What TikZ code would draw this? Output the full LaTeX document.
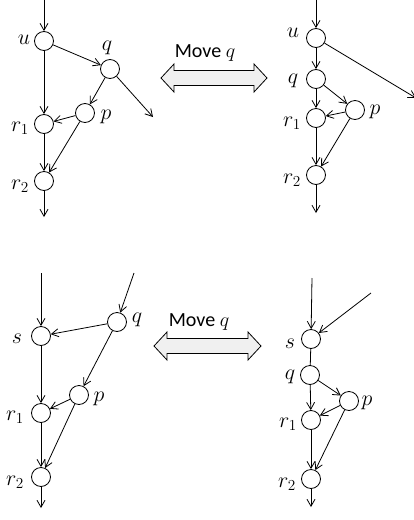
\documentclass[tikz,border=0pt]{standalone}
\usepackage{fontspec}
\newfontfamily\movefont{Carlito}
\usetikzlibrary{arrows.meta}
\tikzset{
  vtx/.style={circle, draw, minimum size=19pt, inner sep=0pt, line width=0.8pt},
  edge/.style={line width=0.8pt, -{Straight Barb[length=7pt,width=8pt]}},
  plain/.style={line width=0.8pt},
  lab/.style={inner sep=0pt, font=\fontsize{17.28}{17.28}\selectfont, scale=1.27},
  mv/.style={inner sep=0pt, font=\movefont\fontsize{17.28}{17.28}\selectfont, scale=1.16},
  dbl/.style={draw, line width=0.8pt, fill=gray!12, line join=miter}
}
\newcommand{\dblarrow}[4]{% left tip x, right tip x, center y, name
  \path[dbl] (#1,#3) -- (#1+13,#3-14) -- (#1+13,#3-7.5) -- (#2-13,#3-7.5) -- (#2-13,#3-14)
    -- (#2,#3) -- (#2-13,#3+14) -- (#2-13,#3+7.5) -- (#1+13,#3+7.5) -- (#1+13,#3+14) -- cycle;}
\begin{document}
\begin{tikzpicture}[x=1pt,y=-1pt]
\useasboundingbox (0,0) rectangle (414,520);
% ---------- top left ----------
\node[vtx] (a_u) at (44,41) {};
\node[vtx] (a_q) at (110,69) {};
\node[vtx] (a_p) at (85,113) {};
\node[vtx] (a_r1) at (44,124) {};
\node[vtx] (a_r2) at (44,181) {};
\coordinate (a_in) at (44,0);
\coordinate (a_qout) at (153,117);
\coordinate (a_out) at (44,217);
\node[lab] (a_lu) at (24,40) {$u$};
\node[lab] (a_lq) at (107,48) {$q$};
\node[lab] (a_lp) at (106,117) {$p$};
\node[lab] (a_lr1) at (20,128) {$r_1$};
\node[lab] (a_lr2) at (20,186) {$r_2$};
\draw[edge] (a_in) -- (a_u);
\draw[edge] (a_u) -- (a_q);
\draw[edge] (a_u) -- (a_r1);
\draw[edge] (a_q) -- (a_p);
\draw[edge] (a_q) -- (a_qout);
\draw[edge] (a_p) -- (a_r1);
\draw[edge] (a_p) -- (a_r2);
\draw[edge] (a_r1) -- (a_r2);
\draw[edge] (a_r2) -- (a_out);
% ---------- top right ----------
\node[vtx] (b_u) at (316,38) {};
\node[vtx] (b_q) at (316,79) {};
\node[vtx] (b_p) at (355,110) {};
\node[vtx] (b_r1) at (316,118) {};
\node[vtx] (b_r2) at (316,175) {};
\coordinate (b_in) at (316,0);
\coordinate (b_uout) at (416,98);
\coordinate (b_out) at (316,213);
\node[lab] (b_lu) at (293,33) {$u$};
\node[lab] (b_lq) at (293,81) {$q$};
\node[lab] (b_lp) at (375,112) {$p$};
\node[lab] (b_lr1) at (292,123) {$r_1$};
\node[lab] (b_lr2) at (292,180) {$r_2$};
\draw[edge] (b_in) -- (b_u);
\draw[edge] (b_u) -- (b_q);
\draw[edge] (b_u) -- (b_uout);
\draw[edge] (b_q) -- (b_r1);
\draw[edge] (b_q) -- (b_p);
\draw[edge] (b_p) -- (b_r1);
\draw[edge] (b_p) -- (b_r2);
\draw[edge] (b_r1) -- (b_r2);
\draw[edge] (b_r2) -- (b_out);
% ---------- bottom left ----------
\node[vtx] (c_s) at (41,336) {};
\node[vtx] (c_q) at (117,322) {};
\node[vtx] (c_p) at (79,395) {};
\node[vtx] (c_r1) at (41,413) {};
\node[vtx] (c_r2) at (41,477) {};
\coordinate (c_in) at (41,273);
\coordinate (c_qin) at (134,273);
\coordinate (c_out) at (41,508);
\node[lab] (c_ls) at (17,339) {$s$};
\node[lab] (c_lq) at (137,320) {$q$};
\node[lab] (c_lp) at (99,399) {$p$};
\node[lab] (c_lr1) at (15,417) {$r_1$};
\node[lab] (c_lr2) at (15,482) {$r_2$};
\draw[edge] (c_in) -- (c_s);
\draw[edge] (c_qin) -- (c_q);
\draw[edge] (c_q) -- (c_s);
\draw[edge] (c_s) -- (c_r1);
\draw[edge] (c_q) -- (c_p);
\draw[edge] (c_p) -- (c_r1);
\draw[edge] (c_p) -- (c_r2);
\draw[edge] (c_r1) -- (c_r2);
\draw[edge] (c_r2) -- (c_out);
% ---------- bottom right ----------
\node[vtx] (d_s) at (311,339) {};
\node[vtx] (d_q) at (310,375) {};
\node[vtx] (d_p) at (349,401) {};
\node[vtx] (d_r1) at (311,420) {};
\node[vtx] (d_r2) at (311,479) {};
\coordinate (d_in) at (312,278);
\coordinate (d_sin) at (371,293);
\coordinate (d_out) at (311,507);
\node[lab] (d_ls) at (290,344) {$s$};
\node[lab] (d_lq) at (290,377) {$q$};
\node[lab] (d_lp) at (367,403) {$p$};
\node[lab] (d_lr1) at (288,424) {$r_1$};
\node[lab] (d_lr2) at (287,484) {$r_2$};
\draw[edge] (d_in) -- (d_s);
\draw[edge] (d_sin) -- (d_s);
\draw[plain] (d_s) -- (d_q);
\draw[edge] (d_q) -- (d_r1);
\draw[edge] (d_q) -- (d_p);
\draw[edge] (d_p) -- (d_r1);
\draw[edge] (d_p) -- (d_r2);
\draw[edge] (d_r1) -- (d_r2);
\draw[edge] (d_r2) -- (d_out);
% ---------- move arrows ----------
\dblarrow{161}{267}{78}{m1}
\node[mv] (m1_t) at (205,53) {Move $q$};
\dblarrow{154}{261}{346}{m2}
\node[mv] (m2_t) at (199,322) {Move $q$};
\end{tikzpicture}
\end{document}
